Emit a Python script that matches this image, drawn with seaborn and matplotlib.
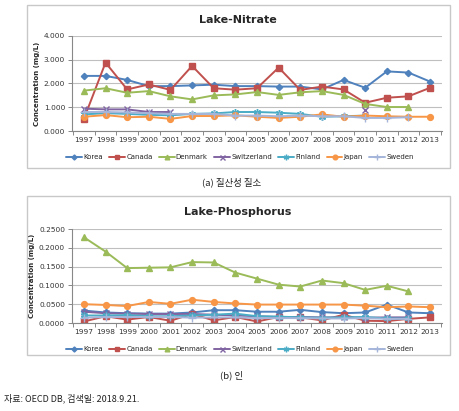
import numpy as np
import pandas as pd
import matplotlib
matplotlib.use("Agg")
import matplotlib.pyplot as plt
import seaborn as sns
from matplotlib.patches import Rectangle
from matplotlib.lines import Line2D
from matplotlib.ticker import FormatStrFormatter, FixedLocator

years = [str(y) for y in range(1997, 2014)]
countries = ["Korea", "Canada", "Denmark", "Switzerland", "Finland", "Japan", "Sweden"]
nan = np.nan

# Lake-Nitrate (mg/L)
nit_korea = [2.32, 2.32, 2.15, 1.89, 1.89, 1.92, 1.95, 1.89, 1.89, 1.87, 1.87, 1.75, 2.15, 1.82, 2.51, 2.46, 2.08]
nit_canada = [0.51, 2.88, 1.75, 1.96, 1.73, 2.74, 1.80, 1.74, 1.80, 2.67, 1.73, 1.87, 1.75, 1.19, 1.40, 1.46, 1.82]
nit_denmark = [1.70, 1.80, 1.61, 1.68, 1.46, 1.33, 1.50, 1.54, 1.64, 1.52, 1.63, 1.68, 1.52, 1.14, 1.01, 1.01, nan]
nit_switzerland = [0.94, 0.91, 0.91, 0.80, 0.80, nan, nan, nan, nan, nan, nan, nan, nan, 0.88, nan, nan, nan]
nit_finland = [0.70, 0.75, 0.72, 0.68, 0.66, 0.72, 0.74, 0.80, 0.80, 0.77, 0.72, 0.60, 0.62, 0.65, nan, nan, nan]
nit_japan = [0.60, 0.67, 0.58, 0.60, 0.51, 0.63, 0.63, 0.66, 0.60, 0.55, 0.60, 0.70, 0.60, 0.65, 0.62, 0.60, 0.60]
nit_sweden = [0.80, 0.80, 0.78, 0.75, 0.72, 0.72, 0.72, 0.65, 0.65, 0.62, 0.65, 0.62, 0.62, 0.55, 0.55, 0.58, nan]

# Lake-Phosphorus (mg/L)
pho_korea = [0.033, 0.028, 0.026, 0.025, 0.025, 0.028, 0.034, 0.034, 0.030, 0.030, 0.035, 0.029, 0.026, 0.028, 0.049, 0.028, 0.026]
pho_canada = [0.004, 0.018, 0.009, 0.016, 0.006, 0.024, 0.007, 0.016, 0.004, 0.016, 0.015, 0.007, 0.022, 0.006, 0.005, 0.011, 0.015]
pho_denmark = [0.228, 0.190, 0.146, 0.147, 0.148, 0.162, 0.161, 0.134, 0.118, 0.102, 0.097, 0.113, 0.106, 0.088, 0.099, 0.084, nan]
pho_switzerland = [0.030, 0.026, 0.025, 0.024, 0.024, 0.024, 0.022, 0.020, 0.018, 0.016, 0.016, 0.015, 0.015, 0.014, 0.015, 0.015, nan]
pho_finland = [0.020, 0.020, 0.021, 0.018, 0.018, 0.020, 0.022, 0.025, 0.018, 0.017, 0.015, 0.014, 0.015, 0.016, 0.012, 0.012, nan]
pho_japan = [0.050, 0.048, 0.045, 0.056, 0.051, 0.062, 0.056, 0.052, 0.049, 0.049, 0.049, 0.049, 0.049, 0.046, 0.042, 0.044, 0.042]
pho_sweden = [0.014, 0.016, 0.016, 0.016, 0.016, 0.014, 0.015, 0.015, 0.013, 0.013, 0.013, 0.012, 0.012, 0.013, 0.011, 0.011, nan]

nitrate = [nit_korea, nit_canada, nit_denmark, nit_switzerland, nit_finland, nit_japan, nit_sweden]
phosphorus = [pho_korea, pho_canada, pho_denmark, pho_switzerland, pho_finland, pho_japan, pho_sweden]

colors = ["#4F81BD", "#C0504D", "#9BBB59", "#8064A2", "#4BACC6", "#F79646", "#A5B5DA"]
markers = ["D", "s", "^", "x", (6, 2, 0), "o", "+"]
msizes = [3.2, 4.2, 4.2, 4.5, 5.0, 4.2, 5.5]

sns.set_theme(style="white")
plt.rcParams['font.family'] = ['DejaVu Sans']

W, H = 460, 411
fig = plt.figure(figsize=(W / 100, H / 100), dpi=100)

def fx(px):
    return px / W

def fy(py):
    return 1 - py / H

# outer boxes
for top, bot in [(5, 168), (196, 355)]:
    fig.patches.append(Rectangle((fx(27), fy(bot)), fx(450) - fx(27), fy(top) - fy(bot),
                                 transform=fig.transFigure, fill=False,
                                 edgecolor="#C8C8C8", lw=1.0))

def draw(ax, data, ymax, step, fmt):
    xs = np.arange(len(years))
    for name, vals, c, m, ms in zip(countries, data, colors, markers, msizes):
        v = np.array(vals, dtype=float)
        valid = ~np.isnan(v)
        idx = np.where(valid)[0]
        segs = np.split(idx, np.where(np.diff(idx) != 1)[0] + 1) if len(idx) else []
        for s in segs:
            df = pd.DataFrame({"x": xs[s], "y": v[s]})
            sns.lineplot(data=df, x="x", y="y", ax=ax, color=c, marker=m,
                         markersize=ms, markeredgecolor=c, markeredgewidth=1.0,
                         lw=1.4, legend=False)
    ax.set_xlim(-0.55, len(years) - 0.45)
    ax.set_ylim(0, ymax)
    ax.set_yticks(np.arange(0, ymax + step / 2, step))
    ax.yaxis.set_major_formatter(FormatStrFormatter(fmt))
    ax.set_xticks(xs)
    ax.set_xticklabels(years)
    ax.xaxis.set_minor_locator(FixedLocator(np.arange(-0.5, len(years), 1)))
    ax.tick_params(axis="x", which="major", length=0, labelsize=5.3, pad=4, colors="#333333")
    ax.tick_params(axis="x", which="minor", length=3, width=0.7, color="#888888", direction="out", bottom=True)
    ax.tick_params(axis="y", which="major", length=3, width=0.7, color="#888888", labelsize=5.3, pad=2,
                   left=True, labelcolor="#333333")
    ax.grid(axis="y", color="#BFBFBF", lw=0.8)
    ax.set_axisbelow(True)
    for sp in ["top", "right"]:
        ax.spines[sp].set_visible(False)
    for sp in ["left", "bottom"]:
        ax.spines[sp].set_color("#888888")
        ax.spines[sp].set_linewidth(0.8)
    ax.set_xlabel("")
    ax.set_ylabel("Concentration (mg/L)", fontsize=5.0, fontweight="bold", labelpad=3)

ax1 = fig.add_axes([fx(72), fy(131), fx(442) - fx(72), fy(36) - fy(131)])
draw(ax1, nitrate, 4.0, 1.0, "%.3f")
ax2 = fig.add_axes([fx(72), fy(323), fx(442) - fx(72), fy(229) - fy(323)])
draw(ax2, phosphorus, 0.25, 0.05, "%.4f")

fig.text(fx(238), fy(20), "Lake-Nitrate", ha="center", va="center", fontsize=8, fontweight="bold")
fig.text(fx(238), fy(212), "Lake-Phosphorus", ha="center", va="center", fontsize=8, fontweight="bold")

handles = [Line2D([0], [0], color=c, marker=m, markersize=ms * 0.8, markeredgecolor=c, lw=1.4)
           for c, m, ms in zip(colors, markers, msizes)]
for ypx in (157, 349):
    fig.legend(handles, countries, loc="center", bbox_to_anchor=(fx(240), fy(ypx)), ncol=7,
               fontsize=5.0, frameon=False, handlelength=2.3, handletextpad=0.15,
               columnspacing=0.9, borderaxespad=0)

kfont = ["Noto Sans CJK KR", "DejaVu Sans"]
fig.text(fx(232), fy(182), "(a) 질산성 질소", ha="center", va="center", fontsize=6.8, family=kfont, color="#222222")
fig.text(fx(232), fy(375), "(b) 인", ha="center", va="center", fontsize=6.8, family=kfont, color="#222222")
fig.text(fx(4), fy(398), "자료: OECD DB, 검색일: 2018.9.21.", ha="left", va="center", fontsize=6.5, family=kfont, color="#222222")

fig.savefig("out.png", dpi=100)
